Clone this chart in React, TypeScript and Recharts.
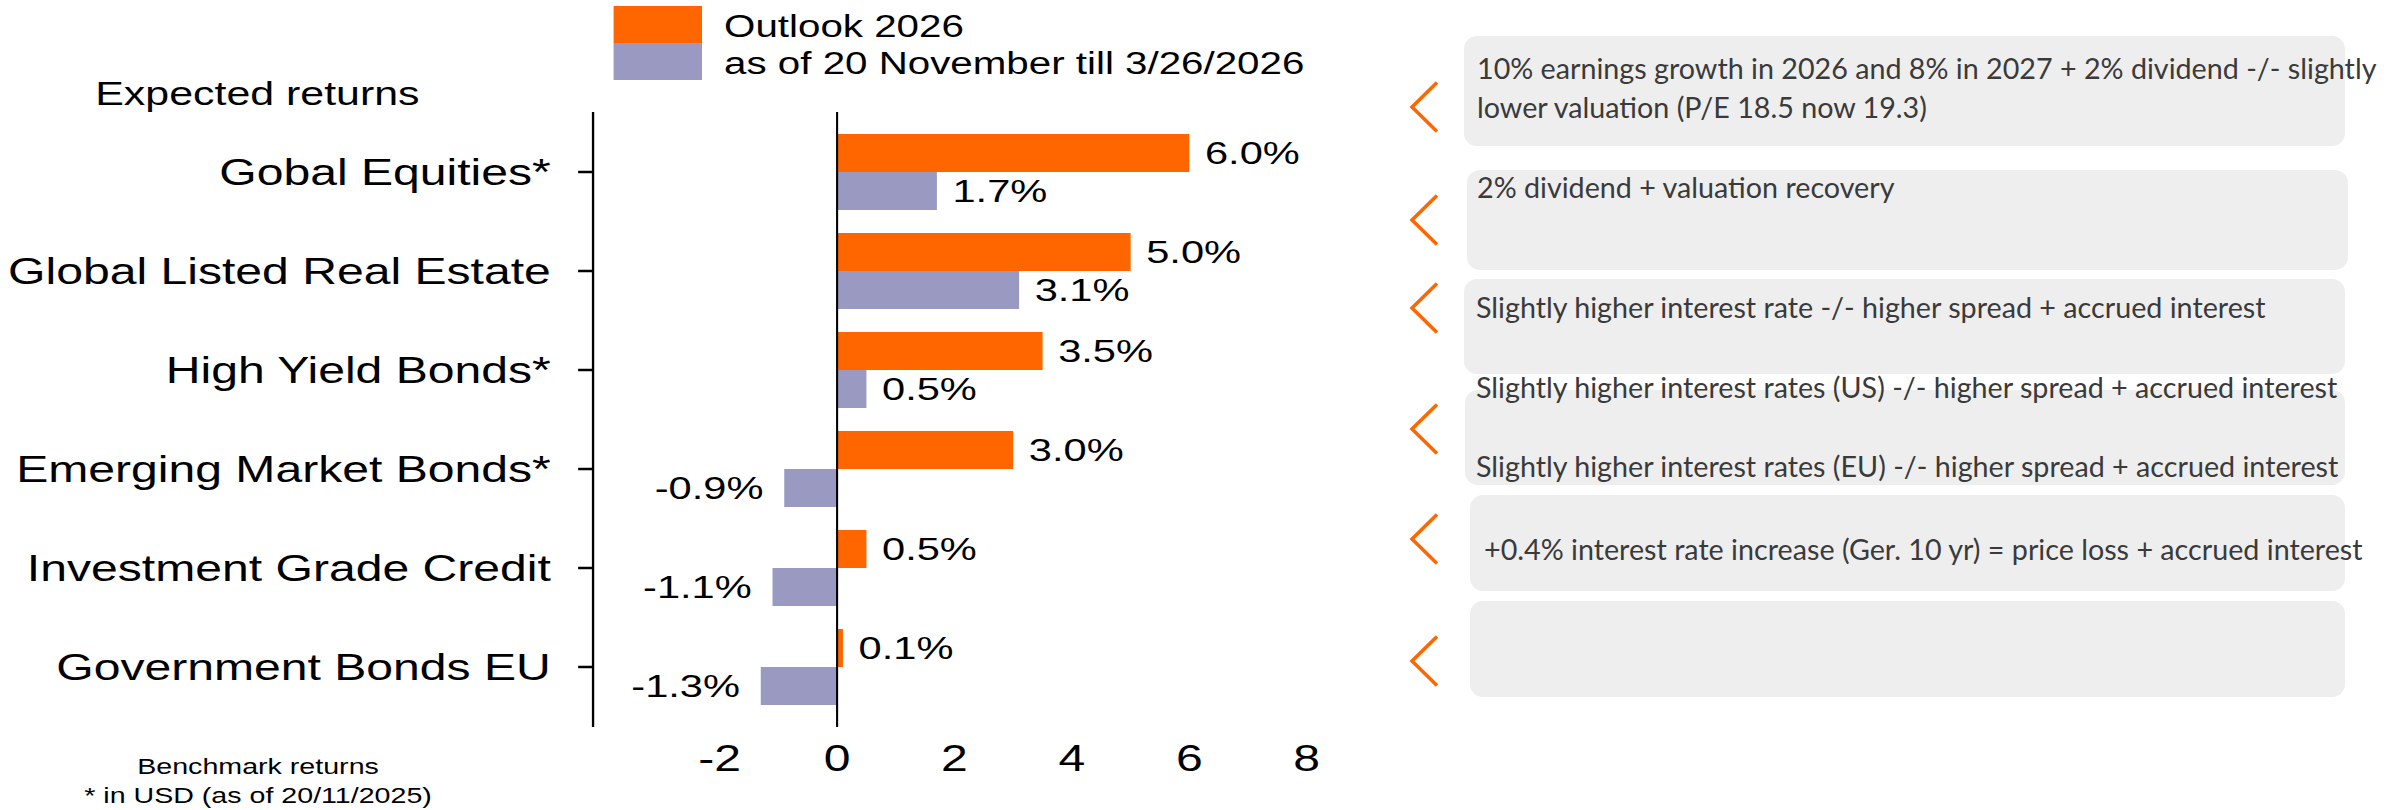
import React from "react";
import {
  Bar,
  BarChart,
  LabelList,
  Legend,
  ReferenceLine,
  XAxis,
  YAxis,
} from "recharts";

const categories = [
  "Gobal Equities*",
  "Global Listed Real Estate",
  "High Yield Bonds*",
  "Emerging Market Bonds*",
  "Investment Grade Credit",
  "Government Bonds EU",
];
const outlook2026 = [6.0, 5.0, 3.5, 3.0, 0.5, 0.1];
const sinceNovember = [1.7, 3.1, 0.5, -0.9, -1.1, -1.3];
const seriesNames = ["Outlook 2026", "as of 20 November till 3/26/2026"];
const xTicks = [-2, 0, 2, 4, 6, 8];

const noteTexts = [
  [
    "10% earnings growth in 2026 and 8% in 2027 + 2% dividend -/- slightly",
    "lower valuation (P/E 18.5 now 19.3)",
  ],
  ["2% dividend + valuation recovery"],
  ["Slightly higher interest rate -/- higher spread + accrued interest"],
  [
    "Slightly higher interest rates (US) -/- higher spread + accrued interest",
    "",
    "Slightly higher interest rates (EU) -/- higher spread + accrued interest",
  ],
  ["+0.4% interest rate increase (Ger. 10 yr) = price loss + accrued interest"],
  [],
];

// box geometry for the comment panel (page pixels)
const noteLayout = [
  { left: 1464, top: 36, width: 881, height: 110, textLeft: 1477, baseline: 79, chevron: 107 },
  { left: 1467, top: 170, width: 881, height: 100, textLeft: 1477, baseline: 198, chevron: 220 },
  { left: 1464, top: 279, width: 881, height: 95, textLeft: 1476, baseline: 318, chevron: 308 },
  { left: 1465, top: 390, width: 880, height: 95, textLeft: 1476, baseline: 398, chevron: 429 },
  { left: 1470, top: 495, width: 875, height: 96, textLeft: 1484, baseline: 560, chevron: 539 },
  { left: 1470, top: 601, width: 875, height: 96, textLeft: 1484, baseline: 640, chevron: 661 },
];

const ORANGE = "#FF6600";
const LAVENDER = "#9999C2";
const STRETCH = 1.3; // the chart half of the slide is stretched horizontally
const CHART_W = 1030;
const NOTE_FONT = 28.7;
const NOTE_LINE = 39.5;

const data = categories.map((name, i) => ({
  name,
  outlook: outlook2026[i],
  current: sinceNovember[i],
}));

function ValueLabel(props: any) {
  const { x, y, width, height, value } = props;
  const v = Number(value);
  const left = Math.min(x, x + width);
  const right = Math.max(x, x + width);
  const neg = v < 0;
  return (
    <text
      x={neg ? left - 16 : right + 12}
      y={y + height / 2}
      dominantBaseline="central"
      textAnchor={neg ? "end" : "start"}
      fontSize={32}
      fill="#000"
    >
      {`${v.toFixed(1)}%`}
    </text>
  );
}

function LegendBlock(props: any) {
  const { payload = [] } = props;
  return (
    <div>
      {payload.map((entry: any) => (
        <div
          key={entry.value}
          style={{ display: "flex", alignItems: "center", height: 37 }}
        >
          <span
            style={{
              display: "inline-block",
              width: 68.5,
              height: 37,
              background: entry.color,
            }}
          />
          <span
            style={{
              marginLeft: 17,
              fontSize: 31,
              lineHeight: "37px",
              paddingTop: 4,
              color: "#000",
              whiteSpace: "nowrap",
            }}
          >
            {entry.value}
          </span>
        </div>
      ))}
    </div>
  );
}

function Notes() {
  return (
    <>
      {noteLayout.map((box, i) => (
        <div
          key={`box-${i}`}
          style={{
            position: "absolute",
            left: box.left,
            top: box.top,
            width: box.width,
            height: box.height,
            background: "#EEEEEE",
            borderRadius: 13,
          }}
        />
      ))}
      {noteLayout.map((box, i) =>
        noteTexts[i].map((line, j) => (
          <div
            key={`line-${i}-${j}`}
            style={{
              position: "absolute",
              left: box.textLeft,
              top: box.baseline + j * NOTE_LINE - NOTE_FONT * 0.887,
              fontFamily: "Lato, 'Open Sans', sans-serif",
              fontSize: NOTE_FONT,
              lineHeight: 1,
              color: "#3a3a3a",
              whiteSpace: "nowrap",
            }}
          >
            {line}
          </div>
        ))
      )}
      <svg
        width={2389}
        height={810}
        style={{ position: "absolute", left: 0, top: 0, pointerEvents: "none" }}
      >
        {noteLayout.map((box, i) => (
          <polyline
            key={`chev-${i}`}
            points={`1437,${box.chevron - 24.5} 1412,${box.chevron} 1437,${box.chevron + 24.5}`}
            fill="none"
            stroke={ORANGE}
            strokeWidth={3.5}
          />
        ))}
      </svg>
    </>
  );
}

export default function App() {
  return (
    <div
      style={{
        position: "absolute",
        left: 0,
        top: 0,
        width: 2389,
        height: 810,
        overflow: "hidden",
        background: "#fff",
      }}
    >
      <div
        style={{
          position: "absolute",
          left: 0,
          top: 0,
          width: CHART_W,
          height: 810,
          transform: `scaleX(${STRETCH})`,
          transformOrigin: "0 0",
          fontFamily: "'Liberation Sans', Arial, sans-serif",
        }}
      >
        <div
          style={{
            position: "absolute",
            left: 0,
            top: 77,
            width: 396,
            textAlign: "center",
            fontSize: 33,
            lineHeight: 1,
            color: "#000",
          }}
        >
          Expected returns
        </div>
        <BarChart
          width={CHART_W}
          height={810}
          layout="vertical"
          data={data}
          margin={{ top: 112, right: 24.8, bottom: 23, left: 0 }}
          barGap={0}
          barCategoryGap="11.6%"
        >
          <XAxis
            type="number"
            domain={[-2, 8]}
            ticks={xTicks}
            interval={0}
            padding={{ left: 97.4, right: 0 }}
            axisLine={false}
            tickLine={false}
            tickSize={0}
            tickMargin={18}
            height={60}
            tick={{ fill: "#000", fontSize: 37 }}
            allowDataOverflow
          />
          <YAxis
            type="category"
            dataKey="name"
            width={456.2}
            interval={0}
            padding={{ top: 10.5, bottom: 10.5 }}
            tickSize={11.5}
            tickMargin={21}
            axisLine={{ stroke: "#000", strokeWidth: 1.8 }}
            tickLine={{ stroke: "#000", strokeWidth: 2.5 }}
            tick={{ fill: "#000", fontSize: 37 }}
          />
          <Legend
            layout="vertical"
            align="center"
            verticalAlign="middle"
            wrapperStyle={{ left: 471.5, top: 6, width: "auto", height: "auto" }}
            content={<LegendBlock />}
          />
          <Bar
            dataKey="outlook"
            name={seriesNames[0]}
            fill={ORANGE}
            isAnimationActive={false}
          >
            <LabelList dataKey="outlook" content={<ValueLabel />} />
          </Bar>
          <Bar
            dataKey="current"
            name={seriesNames[1]}
            fill={LAVENDER}
            isAnimationActive={false}
          >
            <LabelList dataKey="current" content={<ValueLabel />} />
          </Bar>
          <ReferenceLine x={0} stroke="#000" strokeWidth={1.6} />
        </BarChart>
        <div
          style={{
            position: "absolute",
            left: 0,
            top: 752,
            width: 397,
            textAlign: "center",
            fontSize: 22,
            lineHeight: "29px",
            color: "#000",
          }}
        >
          Benchmark returns
          <br />* in USD (as of 20/11/2025)
        </div>
      </div>
      <Notes />
    </div>
  );
}
